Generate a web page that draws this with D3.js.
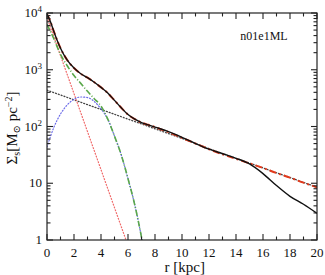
<!DOCTYPE html>
<html>
<head>
<meta charset="utf-8">
<script src="https://cdn.jsdelivr.net/npm/d3@7"></script>
<style>
  body { margin: 0; background: #fff; }
  text { font-family: "Liberation Serif", "DejaVu Serif", serif; fill: #111; }
</style>
</head>
<body>
<div id="chart"></div>
<script>
  // radius values (kpc) and log10 surface density for each curve
  const rTotal = [0, 0.25, 0.5, 0.75, 1, 1.5, 2, 2.5, 3, 3.5, 4, 4.5, 5, 5.5, 6, 6.5, 7, 7.5, 8, 9, 10, 11, 12, 13, 14, 15, 16, 17, 18, 19, 20];
  const logObserved = [3.98, 3.85, 3.68, 3.52, 3.38, 3.17, 3.03, 2.93, 2.86, 2.78, 2.69, 2.59, 2.46, 2.33, 2.21, 2.13, 2.07, 2.03, 1.99, 1.91, 1.81, 1.70, 1.60, 1.52, 1.44, 1.34, 1.17, 0.96, 0.77, 0.63, 0.47];
  const logModel = [3.98, 3.85, 3.68, 3.52, 3.38, 3.17, 3.03, 2.93, 2.86, 2.78, 2.69, 2.59, 2.46, 2.33, 2.21, 2.13, 2.07, 2.03, 1.99, 1.90, 1.80, 1.70, 1.60, 1.51, 1.43, 1.35, 1.27, 1.18, 1.10, 1.01, 0.93];

  const rDisk = [0, 2, 4, 6, 8, 10, 12, 14, 16, 18, 20];
  const logDisk = [2.64, 2.47, 2.30, 2.13, 1.96, 1.79, 1.61, 1.44, 1.27, 1.10, 0.93];

  const rBulge = [0, 1, 2, 3, 4, 5, 6];
  const logBulge = [3.92, 3.25, 2.58, 1.91, 1.24, 0.57, -0.1];

  const rBar = [0, 0.5, 1, 1.5, 2, 2.5, 3, 3.5, 4, 4.5, 5, 5.5, 6, 6.5, 7, 7.2];
  const logBar = [3.80, 3.55, 3.27, 3.07, 2.90, 2.76, 2.62, 2.49, 2.36, 2.13, 1.83, 1.50, 1.08, 0.62, 0.05, -0.2];

  const rRing = [0, 0.5, 1, 1.5, 2, 2.5, 3, 3.5, 4, 4.5, 5, 5.5, 6, 6.5, 7, 7.2];
  const logRing = [1.64, 1.98, 2.22, 2.38, 2.48, 2.52, 2.51, 2.44, 2.31, 2.13, 1.83, 1.50, 1.08, 0.62, 0.05, -0.2];

  const xTicks = [0, 2, 4, 6, 8, 10, 12, 14, 16, 18, 20];
  const yTicks = [1, 10, 100, 1000, 10000];

  const x0 = 47, x1 = 317, yTop = 13, yBot = 240;

  const svg = d3.select("#chart")
    .append("svg")
    .attr("width", 325)
    .attr("height", 275);

  const x = d3.scaleLinear().domain([0, 20]).range([x0, x1]);
  const y = d3.scaleLog().domain([1, 10000]).range([yBot, yTop]);

  svg.append("defs").append("clipPath").attr("id", "clip")
    .append("rect")
    .attr("x", x0).attr("y", yTop)
    .attr("width", x1 - x0).attr("height", yBot - yTop);

  const line = d3.line()
    .x(d => x(d[0]))
    .y(d => y(Math.pow(10, d[1])))
    .curve(d3.curveMonotoneX);

  const curves = [
    { r: rDisk, v: logDisk, color: "#444", width: 1.3, dash: "1,2", cap: "round" },
    { r: rBulge, v: logBulge, color: "#f06a6a", width: 1.2, dash: "1,2", cap: "round" },
    { r: rRing, v: logRing, color: "#6a6ae8", width: 1.2, dash: "1,2", cap: "round" },
    { r: rBar, v: logBar, color: "#5aa84a", width: 1.6, dash: "6,2,1,2", cap: "butt" },
    { r: rTotal, v: logModel, color: "#e23a1c", width: 2, dash: "7,3,2,3", cap: "butt" },
    { r: rTotal, v: logObserved, color: "#111", width: 1.4, dash: null, cap: "butt" }
  ];

  const plot = svg.append("g").attr("clip-path", "url(#clip)");
  curves.forEach(c => {
    plot.append("path")
      .datum(c.r.map((r, i) => [r, c.v[i]]))
      .attr("fill", "none")
      .attr("stroke", c.color)
      .attr("stroke-width", c.width)
      .attr("stroke-linecap", c.cap)
      .attr("stroke-dasharray", c.dash)
      .attr("d", line);
  });

  // frame
  svg.append("rect")
    .attr("x", x0).attr("y", yTop)
    .attr("width", x1 - x0).attr("height", yBot - yTop)
    .attr("fill", "none").attr("stroke", "#222").attr("stroke-width", 1.2);

  // inward ticks on all four sides
  const xMinor = d3.range(1, 20, 2);
  const yMinor = [];
  for (let p = 0; p < 4; p++) for (let m = 2; m <= 9; m++) yMinor.push(m * Math.pow(10, p));

  const ticks = svg.append("g").attr("stroke", "#222").attr("stroke-width", 1.1);
  xTicks.concat(xMinor).forEach(t => {
    const len = xTicks.includes(t) ? 6 : 3.5;
    ticks.append("line").attr("x1", x(t)).attr("x2", x(t)).attr("y1", yBot).attr("y2", yBot - len);
    ticks.append("line").attr("x1", x(t)).attr("x2", x(t)).attr("y1", yTop).attr("y2", yTop + len);
  });
  yTicks.concat(yMinor).forEach(t => {
    const len = yTicks.includes(t) ? 6 : 3.5;
    ticks.append("line").attr("y1", y(t)).attr("y2", y(t)).attr("x1", x0).attr("x2", x0 + len);
    ticks.append("line").attr("y1", y(t)).attr("y2", y(t)).attr("x1", x1).attr("x2", x1 - len);
  });

  // x tick labels
  svg.append("g").selectAll("text")
    .data(xTicks)
    .join("text")
    .attr("x", d => x(d))
    .attr("y", 257)
    .attr("text-anchor", "middle")
    .attr("font-size", 13)
    .text(d => d);

  // y tick labels
  const yl = svg.append("g").selectAll("text")
    .data(yTicks)
    .join("text")
    .attr("x", 42)
    .attr("y", d => y(d) + 4)
    .attr("text-anchor", "end")
    .attr("font-size", 13);
  yl.each(function(d) {
    const t = d3.select(this);
    if (d < 100) { t.text(d); return; }
    t.append("tspan").text("10");
    t.append("tspan").attr("dy", -5).attr("font-size", 9).text(Math.round(Math.log10(d)));
  });

  svg.append("text")
    .attr("x", x(10.2))
    .attr("y", 272)
    .attr("text-anchor", "middle")
    .attr("font-size", 15)
    .text("r [kpc]");

  const ylab = svg.append("text")
    .attr("transform", "translate(17,128) rotate(-90)")
    .attr("text-anchor", "middle")
    .attr("font-size", 15);
  ylab.append("tspan").text("Σ");
  ylab.append("tspan").attr("dy", 3).attr("font-size", 10).text("s");
  ylab.append("tspan").attr("dy", -3).text("[M");
  ylab.append("tspan").attr("dy", 3).attr("font-size", 10).text("⊙");
  ylab.append("tspan").attr("dy", -3).text(" pc");
  ylab.append("tspan").attr("dy", -5).attr("font-size", 10).text("−2");
  ylab.append("tspan").attr("dy", 5).text("]");

  svg.append("text")
    .attr("x", 264)
    .attr("y", 40)
    .attr("text-anchor", "middle")
    .attr("font-size", 12)
    .text("n01e1ML");
</script>
</body>
</html>
